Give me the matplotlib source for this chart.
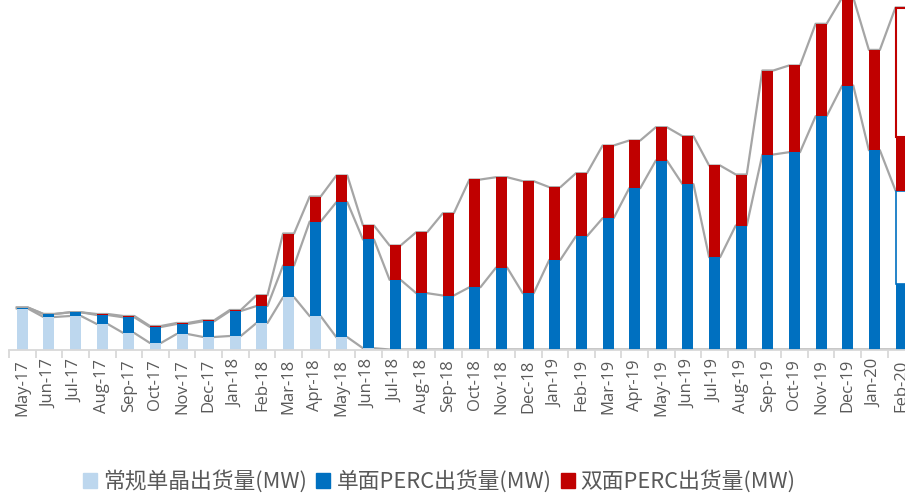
import numpy as np
import matplotlib
matplotlib.use("Agg")
import matplotlib.pyplot as plt

# 月份
months = ["May-17", "Jun-17", "Jul-17", "Aug-17", "Sep-17", "Oct-17", "Nov-17", "Dec-17",
          "Jan-18", "Feb-18", "Mar-18", "Apr-18", "May-18", "Jun-18", "Jul-18", "Aug-18",
          "Sep-18", "Oct-18", "Nov-18", "Dec-18", "Jan-19", "Feb-19", "Mar-19", "Apr-19",
          "May-19", "Jun-19", "Jul-19", "Aug-19", "Sep-19", "Oct-19", "Nov-19", "Dec-19",
          "Jan-20", "Feb-20"]

# 常规单晶出货量 (MW)
conv = [410, 325, 335, 255, 165, 65, 155, 125, 135, 265, 523, 333, 123, 13, 0, 0,
        0, 0, 0, 0, 0, 0, 0, 0, 0, 0, 0, 0, 0, 0, 0, 0, 0, 0]
# 单面PERC出货量 (MW)
mono = [10, 30, 37, 90, 157, 160, 100, 157, 250, 170, 317, 947, 1350, 1087, 697, 563,
        540, 623, 820, 563, 897, 1133, 1313, 1613, 1890, 1653, 923, 1240, 1950, 1973,
        2333, 2640, 1993, 1590]
# 双面PERC出货量 (MW)
bi = [0, 0, 0, 10, 13, 10, 10, 10, 10, 107, 320, 250, 267, 140, 343, 610,
      823, 1077, 903, 1120, 726, 630, 727, 477, 333, 480, 917, 510, 840, 867,
      924, 880, 1003, 1830]

# 最后一根柱子只有部分填充
last_mono_filled = 660
last_bi_filled = 540

labels = ["常规单晶出货量(MW)", "单面PERC出货量(MW)", "双面PERC出货量(MW)"]
colors = ["#BDD7EE", "#0070C0", "#C00000"]

conv = np.array(conv, dtype=float)
mono = np.array(mono, dtype=float)
bi = np.array(bi, dtype=float)
x = np.arange(len(months))
w = 0.413

fig = plt.figure(figsize=(9.05, 4.94), dpi=100)
ax = fig.add_axes([9 / 905, (494 - 349.5) / 494, 896 / 905, 349.5 / 494])

n = len(months) - 1  # 最后一个月单独画
ax.bar(x[:n], conv[:n], w, color=colors[0], zorder=2)
ax.bar(x[:n], mono[:n], w, bottom=conv[:n], color=colors[1], zorder=2)
ax.bar(x[:n], bi[:n], w, bottom=conv[:n] + mono[:n], color=colors[2], zorder=2)

# Feb-20: 空心 + 部分填充
i = n
ax.bar(x[i], last_mono_filled, w, color=colors[1], zorder=2)
ax.bar(x[i], mono[i] - last_mono_filled, w, bottom=last_mono_filled,
       facecolor="white", edgecolor=colors[1], linewidth=1.2, zorder=2)
ax.bar(x[i], last_bi_filled, w, bottom=mono[i], color=colors[2], zorder=2)
ax.bar(x[i], bi[i] - last_bi_filled, w, bottom=mono[i] + last_bi_filled,
       facecolor="white", edgecolor=colors[2], linewidth=1.5, zorder=2)

# 系列线
xs = np.ravel(np.column_stack([x - w / 2, x + w / 2]))
for level in [conv, conv + mono, conv + mono + bi]:
    ys = np.repeat(level, 2)
    ax.plot(xs, ys, color="#A5A5A5", linewidth=1.6, zorder=1)

ax.set_yticks([])
for s in ["left", "right", "top"]:
    ax.spines[s].set_visible(False)
ax.spines["bottom"].set_color("#D9D9D9")
ax.spines["bottom"].set_linewidth(1.3)

ax.set_xticks(x)
ax.set_xticklabels(months, rotation=90, fontsize=12, color="#595959",
                   family=["Open Sans", "DejaVu Sans"])
ax.tick_params(axis="x", which="major", length=0, pad=7)
ax.set_xticks(np.arange(-0.5, 33.2, 1), minor=True)
ax.tick_params(axis="x", which="minor", length=6, width=1.3, color="#D9D9D9")

# 刻度设置之后再定范围
ax.set_xlim(-0.5, 33.15)
ax.set_ylim(0, 3495)

handles = [plt.Rectangle((0, 0), 1, 1, color=c) for c in colors]
leg = fig.legend(handles, labels, loc="center", bbox_to_anchor=(0.4856, 0.025),
                 ncol=3, frameon=False, handlelength=0.64, handleheight=0.64,
                 handletextpad=0.28, columnspacing=0.42, borderaxespad=0,
                 prop={"family": ["Noto Sans CJK SC", "DejaVu Sans"], "size": 15.7})
for t in leg.get_texts():
    t.set_color("#595959")

fig.savefig("out.png", dpi=100)
